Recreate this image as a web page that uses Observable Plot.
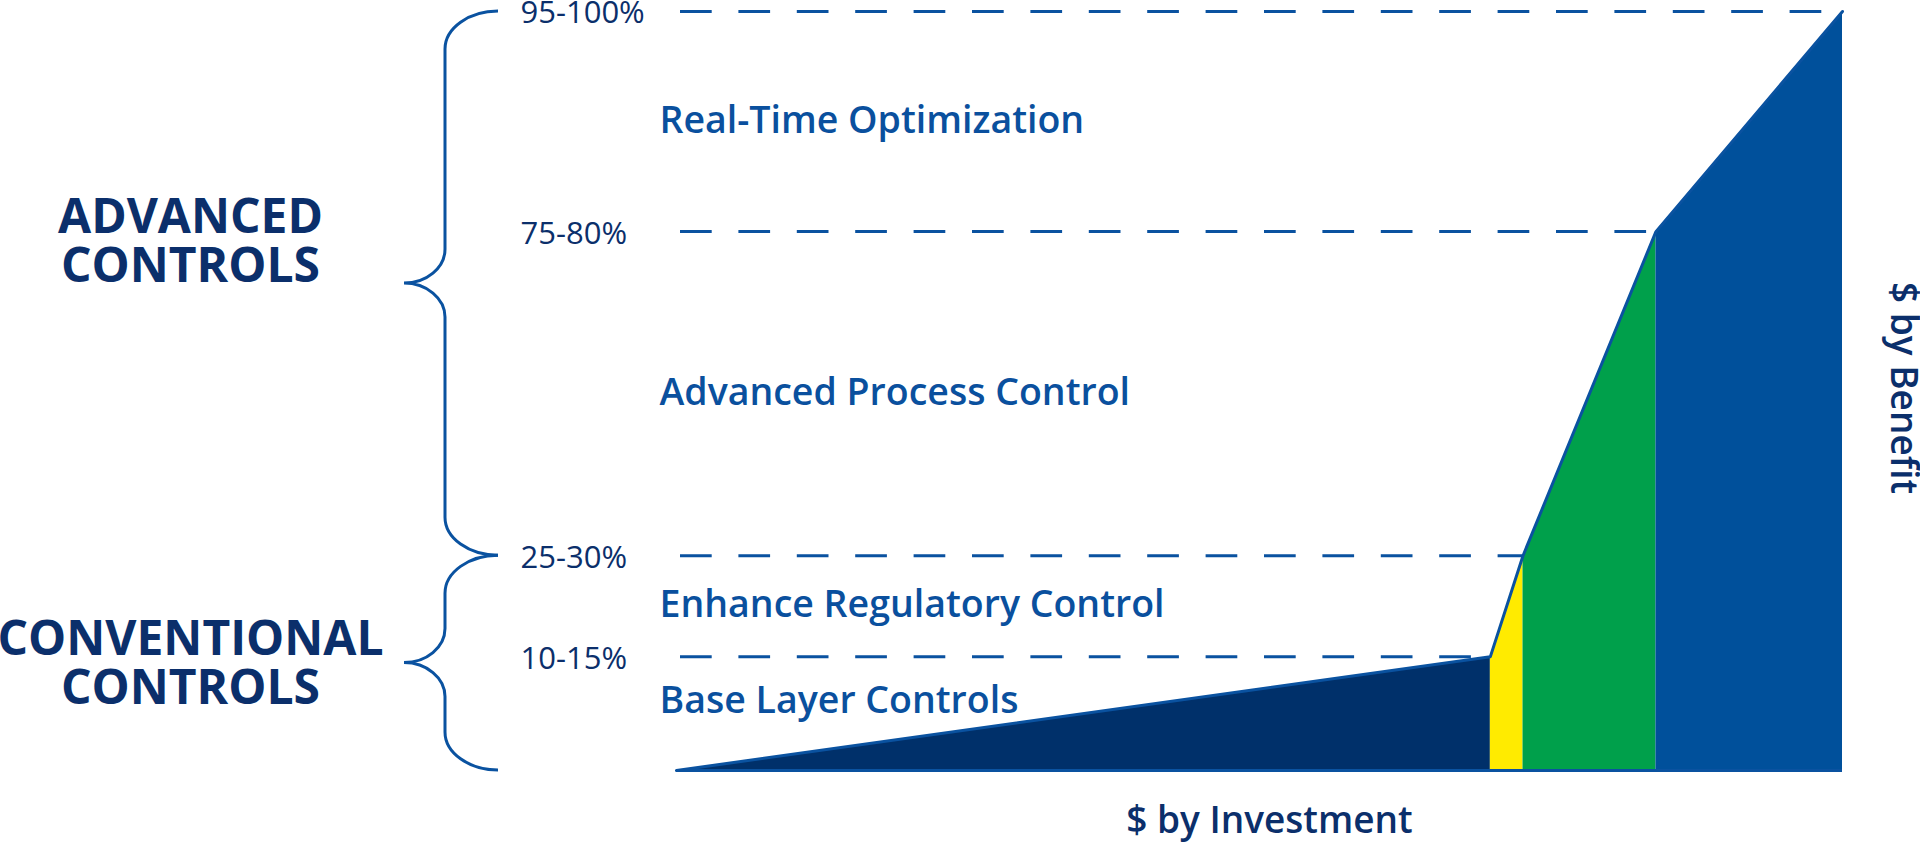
<!DOCTYPE html>
<html>
<head>
<meta charset="utf-8">
<script src="https://cdn.jsdelivr.net/npm/d3@7"></script>
<script src="https://cdn.jsdelivr.net/npm/@observablehq/plot@0.6"></script>
<style>
  html, body { margin: 0; padding: 0; background: #ffffff; overflow: hidden; }
  #chart svg { display: block; }
</style>
</head>
<body>
<div id="chart"></div>
<script>
// ---- data ----
const investment = [0, 69.8, 72.6, 84.0, 100];          // x of curve vertices ($ by Investment)
const benefit = [0, 15.0, 28.3, 71.0, 100];             // y of curve vertices ($ by Benefit)
const levelLabels = ["10-15%", "25-30%", "75-80%", "95-100%"];   // labels for benefit[1..4]
const segments = ["Base Layer Controls", "Enhance Regulatory Control", "Advanced Process Control", "Real-Time Optimization"];
const segmentColors = ["#00306a", "#ffeb00", "#00a04b", "#00509b"];
const groups = ["ADVANCED\nCONTROLS", "CONVENTIONAL\nCONTROLS"];
const groupLow = [2, 0];   // index into benefit
const groupHigh = [4, 2];
const xTitle = "$ by Investment";
const yTitle = "$ by Benefit";

const BLUE = "#0a52a0";
const NAVY = "#0b2f6b";
const LABEL = "#0a509e";

// ---- derived tables ----
const areaPts = [];
segments.forEach((s, i) => {
  areaPts.push({seg: s, x: investment[i], y: benefit[i], fill: segmentColors[i]});
  areaPts.push({seg: s, x: investment[i + 1], y: benefit[i + 1], fill: segmentColors[i]});
});
const curve = investment.map((x, i) => ({x, y: benefit[i]}));
const levels = levelLabels.map((t, i) => ({label: t, y: benefit[i + 1], x2: investment[i + 1]}));
const cats = segments.map((s, i) => ({label: s, y: (benefit[i] + benefit[i + 1]) / 2}));
const grp = groups.map((g, i) => ({label: g, y: (benefit[groupLow[i]] + benefit[groupHigh[i]]) / 2}));

// ---- braces, drawn through the y scale ----
const braceMark = (index, scales, values, dimensions) => {
  const ml = dimensions.marginLeft;
  const xEnd = ml - 178, xV = ml - 231, xTip = ml - 272;
  const r1 = 38, r2 = 34, k = 0.55;
  const hx = xEnd - xV, tx = xV - xTip;
  const g = d3.create("svg:g")
    .attr("fill", "none").attr("stroke", BLUE).attr("stroke-width", 3);
  groupLow.forEach((lo, i) => {
    const y0 = scales.y(benefit[groupHigh[i]]);
    const y1 = scales.y(benefit[lo]);
    const ym = (y0 + y1) / 2;
    const d = `M${xEnd},${y0} C${xEnd - k * hx},${y0} ${xV},${y0 + r1 - k * r1} ${xV},${y0 + r1}` +
      ` L${xV},${ym - r2} C${xV},${ym - r2 + k * r2} ${xTip + k * tx},${ym} ${xTip},${ym}` +
      ` C${xTip + k * tx},${ym} ${xV},${ym + r2 - k * r2} ${xV},${ym + r2}` +
      ` L${xV},${y1 - r1} C${xV},${y1 - r1 + k * r1} ${xEnd - k * hx},${y1} ${xEnd},${y1}`;
    g.append("path").attr("d", d);
  });
  return g.node();
};

const chart = Plot.plot({
  width: 1920,
  height: 844,
  marginLeft: 676,
  marginRight: 78,
  marginTop: 11,
  marginBottom: 74,
  x: {domain: [0, 100], axis: null},
  y: {domain: [0, 100], axis: null},
  color: {type: "identity"},
  style: {fontFamily: "'Open Sans', 'Noto Sans', sans-serif", background: "#ffffff", overflow: "visible"},
  marks: [
    // dashed level lines
    Plot.ruleY(levels, {
      y: "y", x1: 0, x2: "x2",
      stroke: BLUE, strokeWidth: 3, strokeDasharray: "31.7,26.7", strokeDashoffset: 54.4
    }),
    // coloured segments (no stacking: explicit y1/y2)
    Plot.areaY(areaPts, {x: "x", y1: 0, y2: "y", z: "seg", fill: "fill"}),
    // outline of the curve and baseline
    Plot.line(curve, {x: "x", y: "y", stroke: BLUE, strokeWidth: 3}),
    Plot.ruleY([0], {stroke: BLUE, strokeWidth: 3}),
    // braces
    braceMark,
    // level tick labels
    Plot.text(levels, {
      y: "y", text: "label", frameAnchor: "left", dx: -156, dy: 2, textAnchor: "start", lineAnchor: "middle",
      fontSize: 31, fill: NAVY
    }),
    // category labels
    Plot.text(cats.slice(1), {
      y: "y", text: "label", frameAnchor: "left", dx: -17, dy: -1, textAnchor: "start", lineAnchor: "middle",
      fontSize: 37.5, fontWeight: 600, fill: LABEL
    }),
    Plot.text(cats.slice(0, 1), {
      y: "y", text: "label", frameAnchor: "left", dx: -17, dy: -13, textAnchor: "start", lineAnchor: "middle",
      fontSize: 37.5, fontWeight: 600, fill: LABEL
    }),
    // group labels
    Plot.text(grp.slice(0, 1), {
      y: "y", text: "label", frameAnchor: "left", dx: -486, dy: -42, textAnchor: "middle", lineAnchor: "middle",
      fontSize: 48, fontWeight: 700, lineHeight: 1.02, fill: NAVY
    }),
    Plot.text(grp.slice(1), {
      y: "y", text: "label", frameAnchor: "left", dx: -486, dy: 1, textAnchor: "middle", lineAnchor: "middle",
      fontSize: 48, fontWeight: 700, lineHeight: 1.02, fill: NAVY
    }),
    // axis titles
    Plot.text([xTitle], {
      text: d => d, frameAnchor: "bottom", dx: 10, dy: 51, textAnchor: "middle", lineAnchor: "middle",
      fontSize: 37, fontWeight: 600, fill: NAVY
    }),
    Plot.text([yTitle], {
      text: d => d, frameAnchor: "right", dx: 60, dy: -3, rotate: 90, textAnchor: "middle", lineAnchor: "middle",
      fontSize: 37, fontWeight: 600, fill: NAVY
    })
  ]
});

document.getElementById("chart").appendChild(chart);
</script>
</body>
</html>
